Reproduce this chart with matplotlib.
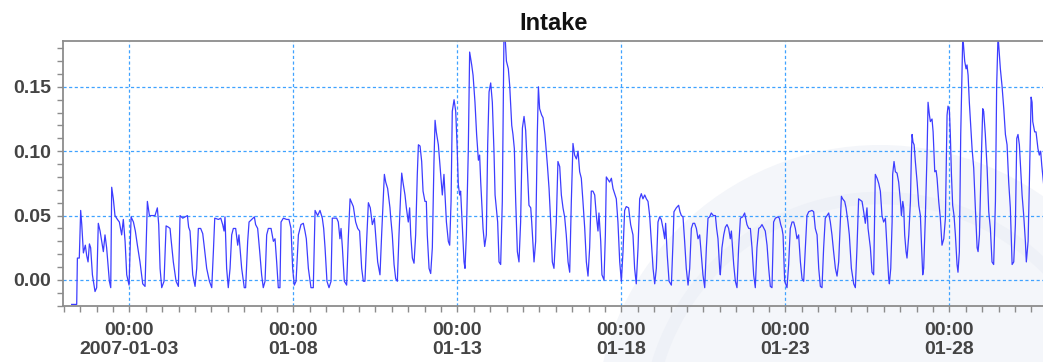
import matplotlib
matplotlib.use('Agg')
import matplotlib.pyplot as plt
import matplotlib.dates as mdates
from matplotlib.ticker import MultipleLocator
from matplotlib.patches import Circle
import pandas as pd

# readings: hours after 2007-01-01 00:00 and intake value
hours = [
    5.8, 9.5, 10.0, 11.4, 12.4, 13.2, 14.4, 15.8, 16.8, 17.8, 18.8, 19.7,
    21.0, 22.9, 24.1, 25.3, 26.6, 27.8, 29.0, 30.2, 31.4, 33.4, 34.4, 35.1,
    36.3, 37.5, 39.3, 40.7, 42.4, 43.6, 44.9, 46.1, 47.8, 49.3, 51.0, 52.4,
    53.9, 55.8, 57.8, 59.5, 61.2, 62.7, 66.8, 68.5, 69.5, 70.5, 71.7, 73.4,
    74.9, 76.6, 77.8, 78.5, 80.2, 82.2, 83.9, 85.1, 87.1, 90.5, 91.4, 92.4,
    94.4, 96.1, 97.3, 98.5, 100.2, 101.7, 102.7, 104.6, 106.6, 108.3, 109.5, 110.5,
    113.2, 114.9, 116.3, 117.3, 118.0,
    119.2, 120.4, 121.7, 122.9, 124.1, 125.8, 127.3, 128.2, 129.0, 130.2, 132.1, 133.1,
    134.6, 135.6, 137.5, 139.5, 140.4, 141.9, 143.4, 144.8, 146.0, 147.3, 148.5, 149.7,
    151.7, 153.4, 154.6, 155.8, 157.0, 158.2, 159.0, 160.7, 163.1, 164.8, 166.3, 167.5,
    168.7, 170.0, 171.7, 173.6, 175.3, 176.5, 177.5, 179.0, 180.9, 182.6, 183.9, 185.8,
    187.5, 189.2, 190.2, 191.2, 192.6, 194.1, 195.6, 196.5, 199.7, 200.9, 202.1, 202.9,
    203.9, 205.3, 207.0, 208.2, 209.5, 210.7, 211.9, 213.6, 215.1, 216.5, 218.0, 219.2,
    220.4, 221.7, 222.9, 224.3, 225.8, 227.3, 228.2, 229.7, 231.4, 232.6, 234.6, 235.6,
    237.0, 238.7,
    239.2, 240.4, 241.7, 242.9, 244.1, 245.3, 246.5, 247.3, 248.2, 249.7, 250.7, 252.1,
    253.1, 253.9, 255.1, 256.3, 257.5, 258.7, 259.5, 260.7, 261.9, 262.9, 264.3, 265.3,
    266.0, 267.3, 268.5, 269.7, 270.9, 271.7, 272.6, 274.1, 275.8, 277.0, 278.2, 279.0,
    280.0, 281.4, 282.4, 283.4, 284.3, 285.6, 286.8, 287.8, 288.7, 289.7, 290.4, 291.7,
    292.9, 293.6, 294.6, 296.0, 297.0, 298.5, 299.5, 300.9, 302.1, 303.4, 304.3, 305.1,
    306.8, 308.0, 309.2, 310.2, 311.2, 312.4, 313.6, 314.8, 315.6, 316.5, 317.5, 318.5,
    319.7, 320.9, 322.1, 322.9, 323.9, 325.3, 326.3, 327.8, 328.7, 329.7, 330.7, 331.9,
    333.1, 334.3, 335.6, 336.8, 338.0, 339.2, 340.4, 341.7, 342.4, 344.1, 345.3, 346.5,
    347.3, 348.2, 349.7, 350.7, 352.1, 353.1, 353.9, 355.1, 356.3, 357.5, 358.7,
    360.4, 361.6, 362.9, 364.1, 365.3, 366.5, 367.7, 369.0, 370.2, 371.4, 372.6, 373.8,
    375.1, 376.3, 377.5, 378.7, 379.9, 381.2, 382.4, 383.6, 384.8, 386.0, 387.2, 388.5,
    389.7, 390.9, 391.6, 392.9, 393.8, 395.3, 396.3, 397.0, 398.2, 399.4, 400.7, 401.9,
    403.1, 404.3, 405.5, 406.8, 408.0, 409.2, 410.4, 411.6, 413.3, 414.8, 416.5, 417.7,
    418.9, 420.2, 421.4, 422.6, 423.8, 425.1, 426.3, 427.5, 428.7, 429.9, 431.2, 432.4,
    433.6, 434.8, 436.0, 437.2, 438.5, 439.7, 440.4, 441.6, 442.9, 444.6, 445.8, 446.5,
    448.2, 449.9, 450.9, 451.9, 453.1, 454.3, 455.5, 456.8, 458.0, 459.2, 460.4, 461.6,
    462.9, 464.1, 465.3, 466.5, 467.7, 469.0, 470.2, 471.4, 472.6, 473.8, 475.3, 476.8,
    477.7, 478.7, 479.9,
    480.4, 481.6, 482.9, 484.1, 485.3, 486.5, 487.7, 488.5, 489.0, 490.2, 491.4, 492.6,
    493.8, 495.1, 496.8, 498.2, 499.9, 501.2, 502.4, 503.6, 504.8, 506.0, 507.2, 508.5,
    509.7, 510.9, 513.3, 514.6, 515.8, 517.0, 518.2, 519.4, 520.7, 522.6, 523.6, 524.6,
    525.5, 526.3, 527.5, 529.2, 530.4, 531.6, 532.9, 534.1, 535.3, 536.5, 537.7, 539.0,
    540.2, 541.4, 542.6, 543.8, 545.1, 547.5, 548.7, 549.9, 551.2, 552.4, 553.6, 554.8,
    556.0, 557.2, 558.5, 559.7, 560.9, 562.1, 563.3, 564.6, 565.8, 567.0, 568.2, 569.0,
    569.9, 571.4, 572.4, 573.8, 574.8, 576.3, 578.0, 579.2, 580.4, 581.6, 582.9, 584.1,
    585.3, 586.5, 587.7, 588.5, 590.2, 591.4, 592.6, 593.8, 595.1, 596.3, 597.5, 598.7,
    599.9, 601.2, 602.4, 603.6,
    604.1, 605.1, 606.1, 606.5, 607.5, 608.5, 609.7, 610.9, 612.2, 612.9, 613.9, 614.6,
    615.3, 616.3, 617.0, 618.3, 619.5, 620.2, 620.7, 621.4, 622.2, 623.1, 624.4, 625.6,
    626.8, 627.5, 628.5, 629.2, 630.4, 631.7, 632.4, 633.4, 634.1, 635.3, 636.1, 637.3,
    638.3, 639.0, 640.2, 641.4, 642.6, 643.9, 645.1, 646.3, 647.0, 648.0, 648.7, 649.5,
    650.4, 651.4, 652.4, 653.6, 654.3, 655.3, 656.3, 657.3, 657.8, 658.5, 659.2, 660.2,
    660.9, 661.7, 662.6, 663.4, 664.6, 665.8, 667.0, 668.3, 669.0, 670.0, 671.2, 672.4,
    673.1, 674.3, 675.6, 676.8, 678.0, 679.2, 680.4, 681.7, 682.6, 683.6, 684.1, 685.3,
    686.5, 687.8, 689.0, 690.2, 691.4, 692.6, 693.9, 695.1, 696.3, 697.3, 698.2, 699.2,
    700.4, 701.2, 702.4, 703.6, 704.3, 705.6, 706.5, 707.8, 708.5, 709.0, 710.4, 711.4,
    712.8, 713.8, 714.8, 715.6, 717.0,
]

intake = [
    -0.019, -0.019, 0.017, 0.017, 0.054, 0.043, 0.021, 0.027, 0.019, 0.014, 0.028, 0.025,
    0.004, -0.009, -0.006, 0.044, 0.038, 0.030, 0.022, 0.035, 0.025, -0.001, -0.006, 0.072,
    0.063, 0.050, 0.047, 0.045, 0.035, 0.047, 0.030, 0.004, -0.004, 0.049, 0.045, 0.038,
    0.027, 0.014, -0.003, -0.005, 0.061, 0.050, 0.050, 0.056, 0.043, 0.009, -0.006, -0.001,
    0.042, 0.041, 0.040, 0.032, 0.014, -0.001, -0.005, 0.050, 0.048, 0.050, 0.041, 0.038,
    0.004, -0.005, 0.009, 0.040, 0.040, 0.036, 0.027, 0.009, -0.001, -0.006, 0.022, 0.048,
    0.047, 0.048, 0.043, 0.038, 0.049,
    0.009, -0.006, 0.009, 0.035, 0.040, 0.040, 0.027, 0.035, 0.025, 0.009, -0.006, -0.006,
    0.030, 0.045, 0.047, 0.049, 0.043, 0.040, 0.022, 0.004, -0.006, -0.001, 0.035, 0.040,
    0.040, 0.030, 0.032, 0.014, -0.006, -0.006, 0.045, 0.048, 0.047, 0.047, 0.040, 0.009,
    -0.004, -0.001, 0.035, 0.043, 0.044, 0.038, 0.032, 0.009, -0.006, -0.006, 0.054, 0.050,
    0.054, 0.048, 0.040, 0.025, -0.001, -0.006, -0.001, 0.048, 0.048, 0.045, 0.032, 0.040,
    0.025, -0.001, -0.004, 0.032, 0.063, 0.060, 0.057, 0.045, 0.040, 0.038, 0.009, -0.001,
    -0.001, 0.032, 0.060, 0.056, 0.043, 0.048, 0.035, 0.014, 0.004, 0.035, 0.082, 0.076,
    0.071, 0.056,
    0.049, 0.035, 0.012, 0.001, -0.001, 0.035, 0.066, 0.083, 0.076, 0.066, 0.056, 0.045,
    0.056, 0.035, 0.017, 0.013, 0.035, 0.082, 0.105, 0.104, 0.092, 0.069, 0.061, 0.061,
    0.035, 0.009, 0.005, 0.025, 0.092, 0.124, 0.115, 0.105, 0.082, 0.066, 0.082, 0.066,
    0.045, 0.030, 0.027, 0.061, 0.131, 0.140, 0.131, 0.105, 0.074, 0.066, 0.069, 0.040,
    0.014, 0.009, 0.035, 0.100, 0.177, 0.167, 0.159, 0.138, 0.113, 0.093, 0.097, 0.076,
    0.040, 0.026, 0.035, 0.105, 0.146, 0.153, 0.138, 0.100, 0.066, 0.056, 0.045, 0.014,
    0.012, 0.061, 0.190, 0.190, 0.170, 0.164, 0.151, 0.120, 0.113, 0.102, 0.061, 0.022,
    0.014, 0.045, 0.118, 0.127, 0.116, 0.087, 0.058, 0.056, 0.045, 0.014, 0.030, 0.113,
    0.150, 0.133, 0.128, 0.126, 0.113, 0.100, 0.089, 0.071, 0.045, 0.014, 0.009,
    0.045, 0.092, 0.088, 0.066, 0.056, 0.049, 0.035, 0.014, 0.006, 0.061, 0.106, 0.097,
    0.094, 0.100, 0.084, 0.079, 0.061, 0.040, 0.014, 0.003, 0.025, 0.069, 0.069, 0.066,
    0.050, 0.038, 0.052, 0.030, 0.004, 0.000, 0.035, 0.080, 0.078, 0.076, 0.079, 0.071,
    0.067, 0.063, 0.045, 0.014, -0.001, 0.022, 0.054, 0.057, 0.056, 0.043, 0.035, 0.009,
    -0.003, 0.025, 0.063, 0.067, 0.063, 0.066, 0.063, 0.061, 0.050, 0.030, 0.009, -0.003,
    0.009, 0.045, 0.049, 0.047, 0.040, 0.032, 0.044, 0.019, -0.001, -0.004, 0.030, 0.053,
    0.056, 0.058, 0.053, 0.050, 0.049, 0.030, 0.009, -0.004, 0.009, 0.040, 0.044, 0.044,
    0.040, 0.032, 0.035, 0.019, 0.004, -0.006, 0.025, 0.048, 0.049, 0.052, 0.050, 0.050,
    0.040, 0.032, 0.009,
    0.004, 0.025, 0.035, 0.041, 0.043, 0.040, 0.032, 0.038, 0.030, 0.012, -0.001, -0.006,
    0.025, 0.048, 0.049, 0.052, 0.043, 0.040, 0.040, 0.025, 0.004, -0.006, 0.025, 0.040,
    0.041, 0.043, 0.038, 0.027, 0.009, -0.005, -0.006, 0.045, 0.048, 0.049, 0.048, 0.043,
    0.040, 0.035, -0.001, -0.006, 0.012, 0.040, 0.045, 0.045, 0.040, 0.032, 0.035, 0.014,
    0.001, -0.001, 0.025, 0.050, 0.053, 0.054, 0.053, 0.040, 0.035, 0.009, -0.005, -0.006,
    0.025, 0.048, 0.050, 0.052, 0.045, 0.035, 0.022, 0.009, 0.003, 0.014, 0.045, 0.065,
    0.063, 0.061, 0.056, 0.045, 0.035, 0.009, -0.003, -0.006, 0.025, 0.063, 0.062, 0.061,
    0.053, 0.044, 0.056, 0.040, 0.025, 0.006, 0.004, 0.082, 0.079, 0.075, 0.069, 0.050,
    0.045, 0.048, 0.025, 0.001,
    -0.003, 0.009, 0.045, 0.082, 0.092, 0.084, 0.083, 0.076, 0.061, 0.050, 0.061, 0.056,
    0.035, 0.022, 0.017, 0.035, 0.061, 0.097, 0.113, 0.107, 0.105, 0.092, 0.076, 0.058,
    0.050, 0.030, 0.004, 0.009, 0.048, 0.100, 0.138, 0.128, 0.123, 0.125, 0.115, 0.084,
    0.085, 0.079, 0.061, 0.048, 0.027, 0.032, 0.048, 0.128, 0.135, 0.132, 0.113, 0.082,
    0.058, 0.050, 0.035, 0.012, 0.006, 0.022, 0.113, 0.164, 0.190, 0.180, 0.170, 0.164,
    0.167, 0.159, 0.138, 0.123, 0.102, 0.087, 0.056, 0.025, 0.022, 0.035, 0.087, 0.133,
    0.131, 0.113, 0.087, 0.053, 0.040, 0.014, 0.012, 0.061, 0.151, 0.190, 0.182, 0.164,
    0.151, 0.133, 0.113, 0.105, 0.076, 0.056, 0.012, 0.014, 0.043, 0.110, 0.113, 0.105,
    0.082, 0.066, 0.050, 0.030, 0.014, 0.030, 0.074, 0.142, 0.138, 0.123, 0.115, 0.115,
    0.102, 0.097, 0.100, 0.089, 0.074,
]

assert len(hours) == len(intake), (len(hours), len(intake))

tick_dates = ['2007-01-03', '2007-01-08', '2007-01-13', '2007-01-18', '2007-01-23', '2007-01-28']
tick_labels = ['00:00\n2007-01-03', '00:00\n01-08', '00:00\n01-13',
               '00:00\n01-18', '00:00\n01-23', '00:00\n01-28']
y_ticks = [0.00, 0.05, 0.10, 0.15]

start = pd.Timestamp('2007-01-01')
times = start + pd.to_timedelta(hours, unit='h')

fig = plt.figure(figsize=(10.43, 3.62), dpi=100)
ax = fig.add_axes([0.0607, 0.1555, 0.9393, 0.732])
ax.set_facecolor('none')
ax.set_axisbelow(True)

# faint watermark emblem behind everything (pixel coords)
for patch in [Circle((880, 362 - 430), 285, facecolor='#f4f6fa', edgecolor='none'),
              Circle((880, 362 - 430), 232, facecolor='none', edgecolor='#eef1f7', lw=9)]:
    patch.set_transform(matplotlib.transforms.IdentityTransform())
    patch.set_clip_on(False)
    patch.set_zorder(-5)
    ax.add_artist(patch)

ax.plot(times, intake, color='#3d3dff', lw=0.9)

ax.set_xlim(start - pd.Timedelta(hours=0.3), start + pd.Timedelta(hours=716.5))
ax.set_ylim(-0.020, 0.1858)

ax.set_xticks(mdates.date2num(pd.to_datetime(tick_dates)))
ax.set_xticklabels(tick_labels)
ax.xaxis.set_minor_locator(mdates.HourLocator(byhour=[0, 12]))
ax.set_yticks(y_ticks)
ax.set_yticklabels(['%.2f' % v for v in y_ticks])
ax.yaxis.set_minor_locator(MultipleLocator(0.01))

ax.grid(True, which='major', color='#3fa2ff', linestyle=(0, (2.5, 2)), linewidth=0.9)

for side in ['left', 'bottom', 'top']:
    ax.spines[side].set_color('#8c8c8c')
    ax.spines[side].set_linewidth(1.3)
ax.spines['right'].set_visible(False)

ax.tick_params(which='both', color='#8c8c8c', direction='out')
ax.tick_params(which='major', length=4, width=1)
ax.tick_params(which='minor', length=4, width=1)
ax.tick_params(axis='y', pad=5)
ax.tick_params(axis='x', pad=8)

for lab in ax.get_xticklabels() + ax.get_yticklabels():
    lab.set_fontfamily('Liberation Sans')
    lab.set_fontweight('bold')
    lab.set_fontsize(14)
    lab.set_color('#444444')
for lab in ax.get_xticklabels():
    lab.set_linespacing(1.15)

ax.set_title('Intake', fontfamily='Liberation Sans', fontweight='bold',
             fontsize=17, color='#111111', pad=8)

fig.savefig('out.png', dpi=100)
